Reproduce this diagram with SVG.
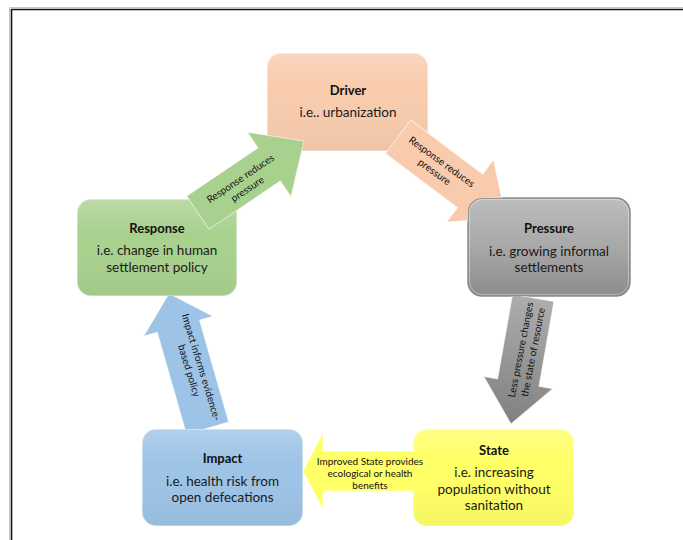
<svg xmlns="http://www.w3.org/2000/svg" width="683" height="540" viewBox="0 0 683 540">
  <defs>
    <style>
      .title { font-family: Lato, "Liberation Sans", sans-serif; font-size: 13px; font-weight: bold; fill: #111; text-anchor: middle; }
      .sub { font-family: Lato, "Liberation Sans", sans-serif; font-size: 13.5px; fill: #1a1a1a; text-anchor: middle; }
      .lbl { font-family: Lato, "Liberation Sans", sans-serif; font-size: 10px; fill: #111; text-anchor: middle; }
      .box { stroke: #ffffff; stroke-opacity: 0.55; stroke-width: 1.5; }
      .gloss { fill: url(#gloss); stroke: none; }
      .arrow { stroke: #ffffff; stroke-opacity: 0.6; stroke-width: 1; }
    </style>
    <linearGradient id="gloss" x1="0" y1="0" x2="0" y2="1">
      <stop offset="0" stop-color="#ffffff" stop-opacity="0.22"/>
      <stop offset="0.35" stop-color="#ffffff" stop-opacity="0"/>
      <stop offset="1" stop-color="#000000" stop-opacity="0.04"/>
    </linearGradient>
    <linearGradient id="greyFill" x1="0" y1="0" x2="0" y2="1">
      <stop offset="0" stop-color="#bdbdbd"/>
      <stop offset="0.5" stop-color="#a8a8a8"/>
      <stop offset="1" stop-color="#8c8c8c"/>
    </linearGradient>
    <linearGradient id="greyArrow" x1="0" y1="0" x2="1" y2="0">
      <stop offset="0" stop-color="#adadad"/>
      <stop offset="1" stop-color="#808080"/>
    </linearGradient>
    <!-- areas outside the boxes that sit above certain arrows -->
    <clipPath id="outsidePressure">
      <path clip-rule="evenodd" d="M0,0H683V540H0Z M482,198H616A14,14 0 0 1 630,212V282A14,14 0 0 1 616,296H482A14,14 0 0 1 468,282V212A14,14 0 0 1 482,198Z"/>
    </clipPath>
    <clipPath id="outsideImpactResponse">
      <path clip-rule="evenodd" d="M0,0H683V540H0Z M156,429H289A14,14 0 0 1 303,443V512A14,14 0 0 1 289,526H156A14,14 0 0 1 142,512V443A14,14 0 0 1 156,429Z M91,199H223A14,14 0 0 1 237,213V282A14,14 0 0 1 223,296H91A14,14 0 0 1 77,282V213A14,14 0 0 1 91,199Z"/>
    </clipPath>
  </defs>

  <rect width="683" height="540" fill="#ffffff"/>

  <!-- page frame -->
  <path d="M9.5,540V7.5H683" fill="none" stroke="#c8c8c8" stroke-width="1"/>
  <path d="M11.5,540V9.5H683" fill="none" stroke="#111" stroke-width="1.6"/>

  <g id="response">
    <rect class="box" x="77" y="199" width="160" height="97" rx="14" fill="#a9d18e"/>
    <rect class="gloss" x="77" y="199" width="160" height="97" rx="14"/>
    <text class="title" x="157" y="233">Response</text>
    <text class="sub" x="157" y="255">i.e. change in human</text>
    <text class="sub" x="157" y="272">settlement policy</text>
  </g>

  <g id="driver">
    <rect class="box" x="267" y="53" width="161" height="98" rx="14" fill="#f8cbad"/>
    <rect class="gloss" x="267" y="53" width="161" height="98" rx="14"/>
    <text class="title" x="348" y="95">Driver</text>
    <text class="sub" x="348" y="117">i.e.. urbanization</text>
  </g>

  <g id="pressure">
    <rect x="468" y="198" width="162" height="98" rx="14" fill="url(#greyFill)" stroke="#8a8a8a" stroke-width="1.5"/>
    <rect x="469.5" y="199.5" width="159" height="95" rx="13" fill="none" stroke="#ffffff" stroke-opacity="0.35" stroke-width="1"/>
    <text class="title" x="549" y="233">Pressure</text>
    <text class="sub" x="549" y="256">i.e. growing informal</text>
    <text class="sub" x="549" y="272">settlements</text>
  </g>

  <g id="impact">
    <rect class="box" x="142" y="429" width="161" height="97" rx="14" fill="#9dc3e6"/>
    <rect class="gloss" x="142" y="429" width="161" height="97" rx="14"/>
    <text class="title" x="222.5" y="463">Impact</text>
    <text class="sub" x="222.5" y="486">i.e. health risk from</text>
    <text class="sub" x="222.5" y="502">open defecations</text>
  </g>

  <g id="state">
    <rect class="box" x="413" y="429" width="161" height="97" rx="14" fill="#ffff66"/>
    <rect class="gloss" x="413" y="429" width="161" height="97" rx="14"/>
    <text class="title" x="494" y="455">State</text>
    <text class="sub" x="494" y="477">i.e. increasing</text>
    <text class="sub" x="494" y="494">population without</text>
    <text class="sub" x="494" y="510">sanitation</text>
  </g>

  <g id="connectors">
    <!-- Response -> Driver -->
    <g id="arrow-response-driver">
      <path class="arrow" fill="#a9d18e" transform="translate(304,141) rotate(-34)" d="M-128,-20H-42V-39L0,0L-42,39V20H-128Z"/>
      <g transform="translate(244,184) rotate(-34)">
        <text class="lbl" x="0" y="-3">Response reduces</text>
        <text class="lbl" x="0" y="9.5">pressure</text>
      </g>
    </g>
    <!-- Driver -> Pressure -->
    <g id="arrow-driver-pressure" clip-path="url(#outsidePressure)">
      <path class="arrow" fill="#f8cbad" transform="translate(506,218) rotate(37)" d="M-135,-21H-45V-39L0,0L-45,39V21H-135Z"/>
      <g transform="translate(438,167) rotate(36)">
        <text class="lbl" x="0" y="-3">Response reduces</text>
        <text class="lbl" x="0" y="9.5">pressure</text>
      </g>
    </g>
    <!-- Pressure -> State -->
    <g id="arrow-pressure-state" clip-path="url(#outsidePressure)">
      <path class="arrow" fill="url(#greyArrow)" transform="translate(511,424) rotate(100)" d="M-128,-21H-42V-35L0,0L-42,35V21H-128Z"/>
      <g transform="translate(527,351) rotate(-79)">
        <text class="lbl" x="0" y="-3">Less pressure changes</text>
        <text class="lbl" x="0" y="9.5">the state of resource</text>
      </g>
    </g>
    <!-- State -> Impact: the tail blends into the State box -->
    <g id="arrow-state-impact">
      <path fill="#ffff66" d="M433,451H323V433L303,471L323,509V491H433Z"/>
      <path d="M416,451H323V433L303,471L323,509V491H416" fill="none" stroke="#ffffff" stroke-opacity="0.6" stroke-width="1"/>
      <text class="lbl" x="370" y="465">Improved State provides</text>
      <text class="lbl" x="370" y="477">ecological or health</text>
      <text class="lbl" x="370" y="489">benefits</text>
    </g>
    <!-- Impact -> Response -->
    <g id="arrow-impact-response" clip-path="url(#outsideImpactResponse)">
      <path class="arrow" fill="#9dc3e6" transform="translate(169,293.5) rotate(-106)" d="M-140,-22H-34V-36L0,0L-34,36V22H-140Z"/>
      <g transform="translate(195,369) rotate(73)">
        <text class="lbl" x="0" y="-3">Impact informs evidence-</text>
        <text class="lbl" x="0" y="9.5">based policy</text>
      </g>
    </g>
  </g>
</svg>
